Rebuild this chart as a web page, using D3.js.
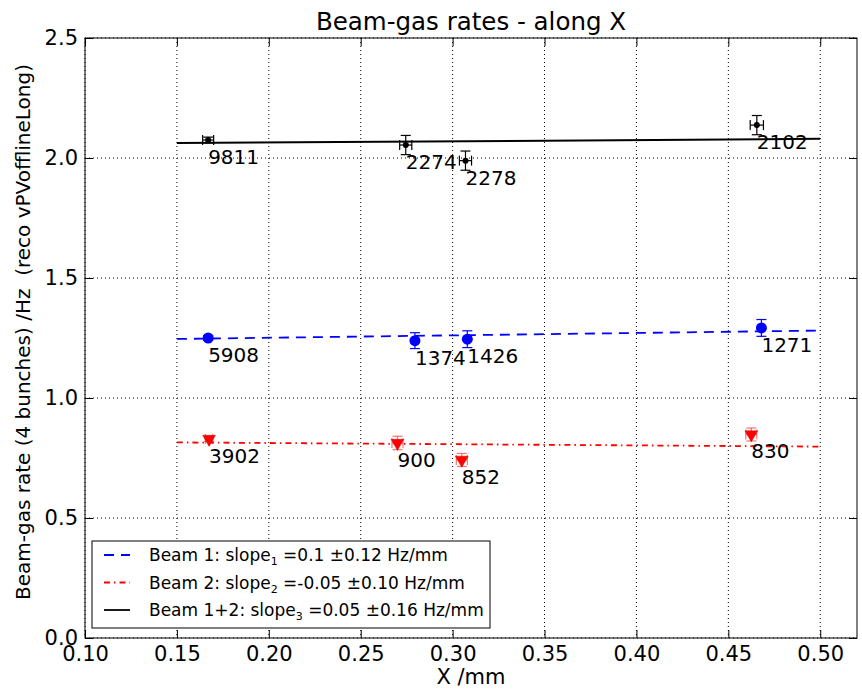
<!DOCTYPE html>
<html>
<head>
<meta charset="utf-8">
<script src="https://cdn.jsdelivr.net/npm/d3@7/dist/d3.min.js"></script>
<style>
  html, body { margin: 0; padding: 0; background: #fff; }
  svg { display: block; font-family: "DejaVu Sans", sans-serif; }
</style>
</head>
<body>
<svg id="chart" width="862" height="689"></svg>
<script>
// Beam-gas rates measured at four beam positions along X
const xTicks = [0.10, 0.15, 0.20, 0.25, 0.30, 0.35, 0.40, 0.45, 0.50];
const yTicks = [0.0, 0.5, 1.0, 1.5, 2.0, 2.5];

// Beam 1 (blue circles)
const beam1X    = [0.167, 0.2795, 0.308, 0.468];
const beam1Rate = [1.250, 1.239, 1.245, 1.292];
const beam1Err  = [0.010, 0.033, 0.035, 0.035];
const beam1N    = [5908, 1374, 1426, 1271];
const beam1Fit  = [[0.15, 1.246], [0.50, 1.281]];

// Beam 2 (red triangles)
const beam2X    = [0.1675, 0.270, 0.305, 0.4625];
const beam2Rate = [0.829, 0.8125, 0.742, 0.848];
const beam2Err  = [0.010, 0.028, 0.027, 0.027];
const beam2XErr = [0.002, 0.003, 0.003, 0.003];
const beam2N    = [3902, 900, 852, 830];
const beam2Fit  = [[0.15, 0.815], [0.50, 0.7975]];

// Beam 1+2 (black dots)
const beam12X    = [0.167, 0.2745, 0.307, 0.4655];
const beam12Rate = [2.075, 2.054, 1.989, 2.137];
const beam12Err  = [0.012, 0.040, 0.040, 0.040];
const beam12XErr = [0.003, 0.0033, 0.0033, 0.0036];
const beam12N    = [9811, 2274, 2278, 2102];
const beam12Fit  = [[0.15, 2.062], [0.50, 2.080]];

const legendItems = [
  { color: "#0000ff", dash: "10,7", pre: "Beam 1: slope", sub: "1", post: " =0.1 \u00b10.12 Hz/mm" },
  { color: "#ff0000", dash: "6,4,1.5,4", pre: "Beam 2: slope", sub: "2", post: " =-0.05 \u00b10.10 Hz/mm" },
  { color: "#000000", dash: null, pre: "Beam 1+2: slope", sub: "3", post: " =0.05 \u00b10.16 Hz/mm" }
];

const svg = d3.select("#chart");
const L = 85, R = 857, T = 38, B = 638;
const x = d3.scaleLinear().domain([0.10, 0.52]).range([L, R]);
const y = d3.scaleLinear().domain([0, 2.5]).range([B, T]);

// dotted grid
const grid = svg.append("g").attr("stroke", "#000").attr("stroke-width", 1)
  .attr("stroke-dasharray", "1,3");
grid.selectAll("line.gx").data(xTicks).join("line")
  .attr("x1", d => x(d)).attr("x2", d => x(d)).attr("y1", T).attr("y2", B);
grid.selectAll("line.gy").data(yTicks).join("line")
  .attr("x1", L).attr("x2", R).attr("y1", d => y(d)).attr("y2", d => y(d));

// axes with inward ticks on all sides
const fmt = d3.format(".2f");
const fmtY = d3.format(".1f");
const gxB = svg.append("g").attr("transform", `translate(0,${B})`)
  .call(d3.axisBottom(x).tickValues(xTicks).tickFormat(fmt).tickSize(-8).tickPadding(8));
const gxT = svg.append("g").attr("transform", `translate(0,${T})`)
  .call(d3.axisTop(x).tickValues(xTicks).tickFormat("").tickSize(-8));
const gyL = svg.append("g").attr("transform", `translate(${L},0)`)
  .call(d3.axisLeft(y).tickValues(yTicks).tickFormat(fmtY).tickSize(-8).tickPadding(7));
const gyR = svg.append("g").attr("transform", `translate(${R},0)`)
  .call(d3.axisRight(y).tickValues(yTicks).tickFormat("").tickSize(-8));
[gxB, gxT, gyL, gyR].forEach(g => {
  g.select(".domain").remove();
  g.selectAll("line").attr("stroke", "#000");
  g.selectAll("text").attr("font-family", "DejaVu Sans").attr("font-size", 21).attr("fill", "#000");
});

// frame
svg.append("rect").attr("x", L).attr("y", T).attr("width", R - L).attr("height", B - T)
  .attr("fill", "none").attr("stroke", "#000").attr("stroke-width", 1);

// fit lines
const line = d3.line().x(d => x(d[0])).y(d => y(d[1]));
svg.append("path").datum(beam12Fit).attr("d", line).attr("fill", "none")
  .attr("stroke", "#000").attr("stroke-width", 2);
svg.append("path").datum(beam1Fit).attr("d", line).attr("fill", "none")
  .attr("stroke", "#0000ff").attr("stroke-width", 1.8).attr("stroke-dasharray", "10,7");
svg.append("path").datum(beam2Fit).attr("d", line).attr("fill", "none")
  .attr("stroke", "#ff0000").attr("stroke-width", 1.8).attr("stroke-dasharray", "6,4,1.5,4");

// error bars with caps
function errorBars(g, xs, ys, yerr, xerr, color, opacity) {
  const cap = 5;
  const grp = g.append("g").attr("stroke", color).attr("stroke-width", 1.2)
    .attr("stroke-opacity", opacity).attr("fill", "none");
  xs.forEach((xv, i) => {
    const cx = x(xv), y0 = y(ys[i] - yerr[i]), y1 = y(ys[i] + yerr[i]);
    grp.append("line").attr("x1", cx).attr("x2", cx).attr("y1", y0).attr("y2", y1);
    grp.append("line").attr("x1", cx - cap).attr("x2", cx + cap).attr("y1", y0).attr("y2", y0);
    grp.append("line").attr("x1", cx - cap).attr("x2", cx + cap).attr("y1", y1).attr("y2", y1);
    if (xerr) {
      const cy = y(ys[i]), x0 = x(xv - xerr[i]), x1 = x(xv + xerr[i]);
      grp.append("line").attr("x1", x0).attr("x2", x1).attr("y1", cy).attr("y2", cy);
      grp.append("line").attr("x1", x0).attr("x2", x0).attr("y1", cy - cap).attr("y2", cy + cap);
      grp.append("line").attr("x1", x1).attr("x2", x1).attr("y1", cy - cap).attr("y2", cy + cap);
    }
  });
}

const marks = svg.append("g");
errorBars(marks, beam12X, beam12Rate, beam12Err, beam12XErr, "#000", 1);
errorBars(marks, beam1X, beam1Rate, beam1Err, null, "#0000ff", 1);
errorBars(marks, beam2X, beam2Rate, beam2Err, beam2XErr, "#ff0000", 0.55);

marks.selectAll("circle.b12").data(beam12X).join("circle")
  .attr("cx", d => x(d)).attr("cy", (d, i) => y(beam12Rate[i])).attr("r", 3).attr("fill", "#000");
marks.selectAll("circle.b1").data(beam1X).join("circle")
  .attr("cx", d => x(d)).attr("cy", (d, i) => y(beam1Rate[i])).attr("r", 5.5).attr("fill", "#0000ff");
const tri = d3.symbol().type(d3.symbolTriangle).size(70);
marks.selectAll("path.b2").data(beam2X).join("path")
  .attr("d", tri)
  .attr("transform", (d, i) => `translate(${x(d)},${y(beam2Rate[i])}) rotate(180)`)
  .attr("fill", "#ff0000").attr("stroke", "#cc0000").attr("stroke-width", 0.5);

// event counts next to each point
function counts(xs, ys, ns) {
  svg.append("g").selectAll("text").data(ns).join("text")
    .attr("x", (d, i) => x(xs[i])).attr("y", (d, i) => y(ys[i] - 0.1))
    .attr("font-size", 20).attr("fill", "#000").text(d => d);
}
counts(beam12X, beam12Rate, beam12N);
counts(beam1X, beam1Rate, beam1N);
counts(beam2X, beam2Rate, beam2N);

// legend
const lg = svg.append("g");
lg.append("rect").attr("x", 92).attr("y", 541).attr("width", 398).attr("height", 87)
  .attr("fill", "#fff").attr("stroke", "#000").attr("stroke-width", 1);
legendItems.forEach((it, i) => {
  const cy = 555 + i * 27.5;
  lg.append("line").attr("x1", 104).attr("x2", 130).attr("y1", cy).attr("y2", cy)
    .attr("stroke", it.color).attr("stroke-width", 1.8)
    .attr("stroke-dasharray", it.dash);
  const t = lg.append("text").attr("x", 149).attr("y", cy + 6).attr("font-size", 17).attr("fill", "#000");
  t.append("tspan").text(it.pre);
  t.append("tspan").attr("font-size", 11).attr("dy", 4).text(it.sub);
  t.append("tspan").attr("dy", -4).text(it.post);
});

// titles
svg.append("text").attr("x", 471).attr("y", 30).attr("text-anchor", "middle")
  .attr("font-size", 24.5).attr("fill", "#000").text("Beam-gas rates - along X");
svg.append("text").attr("x", 471).attr("y", 684).attr("text-anchor", "middle")
  .attr("font-size", 21).attr("fill", "#000").text("X /mm");
svg.append("text").attr("transform", "translate(30,332) rotate(-90)").attr("text-anchor", "middle")
  .attr("font-size", 20).attr("fill", "#000")
  .text("Beam-gas rate (4 bunches) /Hz \u00a0(reco vPVofflineLong)");
</script>
</body>
</html>
